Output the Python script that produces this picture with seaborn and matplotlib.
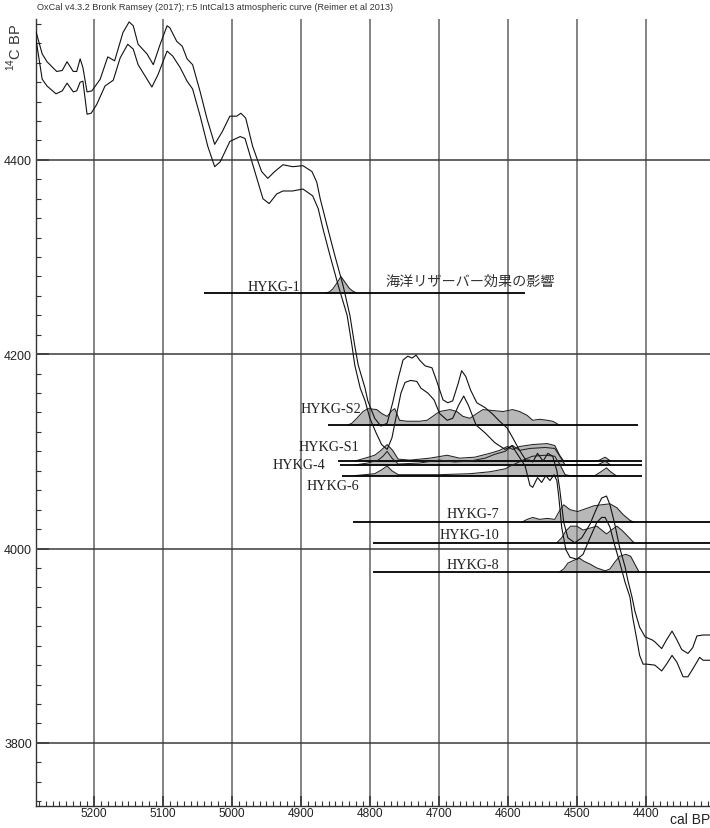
import matplotlib
matplotlib.use("Agg")
import matplotlib.pyplot as plt
from matplotlib.ticker import MultipleLocator, FixedLocator
import numpy as np
import pandas as pd
import seaborn as sns

# IntCal13 atmospheric curve, +1 sigma edge (cal BP, 14C BP)
upper_cal = [5284, 5275, 5268, 5254, 5246, 5239, 5230, 5225, 5220, 5216, 5210, 5203, 5191, 5180,
             5170, 5158, 5149, 5143, 5136, 5123, 5114, 5104, 5094, 5090, 5080, 5072, 5065, 5057,
             5046, 5036, 5025, 5014, 5003, 4993, 4987, 4980, 4970, 4957, 4948, 4938, 4926, 4912,
             4897, 4884, 4877, 4872, 4862, 4851, 4839, 4829, 4822, 4817, 4807, 4803, 4793, 4784,
             4775, 4767, 4759, 4752, 4745, 4739, 4733, 4728, 4720, 4710, 4703, 4694, 4687, 4680,
             4672, 4667, 4661, 4654, 4645, 4633, 4623, 4612, 4601, 4593, 4583, 4574, 4568, 4564,
             4557, 4549, 4542, 4535, 4529, 4525, 4519, 4513, 4503, 4493, 4481, 4471, 4464, 4457,
             4452, 4445, 4438, 4430, 4426, 4420, 4416, 4409, 4401, 4391, 4387, 4377, 4370, 4362,
             4355, 4348, 4339, 4332, 4326, 4317, 4307]
upper_c14 = [4532, 4509, 4501, 4491, 4492, 4501, 4491, 4491, 4504, 4495, 4470, 4471, 4483, 4506,
             4502, 4531, 4542, 4538, 4519, 4509, 4498, 4519, 4538, 4536, 4522, 4517, 4504, 4498,
             4470, 4442, 4416, 4429, 4445, 4445, 4448, 4443, 4414, 4388, 4381, 4388, 4395, 4393,
             4394, 4388, 4377, 4360, 4332, 4302, 4271, 4240, 4209, 4189, 4165, 4152, 4134, 4126,
             4129, 4150, 4175, 4194, 4198, 4196, 4199, 4194, 4188, 4186, 4172, 4153, 4150, 4152,
             4170, 4183, 4177, 4163, 4150, 4145, 4139, 4131, 4124, 4114, 4101, 4091, 4091, 4089,
             4098, 4090, 4098, 4095, 4080, 4062, 4027, 4011, 4006, 4011, 4025, 4042, 4052, 4054,
             4045, 4025, 4001, 3981, 3967, 3950, 3936, 3919, 3909, 3906, 3904, 3897, 3906, 3915,
             3906, 3896, 3892, 3898, 3910, 3911, 3911]

# IntCal13 atmospheric curve, -1 sigma edge (cal BP, 14C BP)
lower_cal = [5284, 5275, 5268, 5255, 5246, 5239, 5230, 5225, 5220, 5216, 5210, 5204, 5196, 5184,
             5172, 5162, 5151, 5143, 5136, 5123, 5116, 5107, 5094, 5086, 5075, 5065, 5057, 5046,
             5035, 5025, 5017, 5003, 4988, 4981, 4971, 4955, 4946, 4935, 4926, 4912, 4897, 4883,
             4875, 4868, 4858, 4846, 4833, 4826, 4822, 4814, 4807, 4800, 4791, 4783, 4775, 4768,
             4761, 4755, 4749, 4741, 4732, 4726, 4716, 4707, 4699, 4688, 4680, 4671, 4664, 4657,
             4646, 4633, 4619, 4604, 4594, 4587, 4575, 4568, 4564, 4557, 4551, 4545, 4539, 4533,
             4529, 4526, 4522, 4516, 4510, 4500, 4491, 4481, 4471, 4464, 4459, 4452, 4445, 4438,
             4430, 4423, 4419, 4413, 4409, 4404, 4399, 4387, 4377, 4370, 4362, 4355, 4346, 4339,
             4332, 4322, 4317, 4307]
lower_c14 = [4524, 4483, 4476, 4468, 4471, 4479, 4470, 4471, 4480, 4481, 4447, 4448, 4457, 4476,
             4482, 4505, 4519, 4514, 4498, 4483, 4475, 4488, 4512, 4507, 4495, 4481, 4473, 4445,
             4414, 4393, 4398, 4419, 4424, 4422, 4398, 4360, 4355, 4365, 4368, 4368, 4370, 4363,
             4350, 4329, 4302, 4271, 4240, 4209, 4189, 4165, 4152, 4134, 4119, 4107, 4102, 4114,
             4139, 4160, 4171, 4173, 4172, 4165, 4160, 4153, 4139, 4132, 4134, 4148, 4157, 4147,
             4127, 4119, 4109, 4102, 4106, 4098, 4085, 4065, 4063, 4073, 4068, 4075, 4070, 4076,
             4070, 4052, 4022, 3999, 3991, 3989, 3994, 4011, 4027, 4032, 4032, 4022, 4003, 3986,
             3965, 3950, 3929, 3906, 3890, 3881, 3881, 3880, 3874, 3881, 3890, 3883, 3868, 3868,
             3876, 3888, 3885, 3885]

# Radiocarbon dates: sample, measured 14C age, plotted calendar range
sample_ids = ["HYKG-1", "HYKG-S2", "HYKG-S1", "HYKG-4", "HYKG-6", "HYKG-7", "HYKG-10", "HYKG-8"]
sample_c14 = [4263, 4127, 4090, 4086, 4075, 4027, 4006, 3976]
range_old = [5041, 4861, 4846, 4843, 4841, 4825, 4796, 4796]
range_young = [4575, 4412, 4406, 4406, 4406, 4300, 4300, 4300]

# Calibrated probability profiles (cal BP, height above the date's baseline)
hykg1_cal = [4865, 4859, 4854, 4848, 4842, 4836, 4830, 4825, 4819]
hykg1_h = [0, 1, 4, 10, 17, 11, 5, 2, 0]
hykgs2_cal = [4832, 4826, 4819, 4810, 4803, 4790, 4783, 4775, 4768, 4764, 4757, 4746, 4728, 4717,
              4709, 4699, 4684, 4674, 4665, 4655, 4645, 4636, 4622, 4607, 4593, 4583, 4572, 4564,
              4554, 4543, 4535, 4525]
hykgs2_h = [0, 2, 7, 14, 17, 16, 12, 9, 15, 17, 5, 4, 4, 5, 9, 14, 16, 14, 9, 7, 12, 16, 15, 14,
            16, 14, 10, 5, 6, 5, 4, 0]
hykgs1_cal = [4822, 4807, 4793, 4784, 4775, 4767, 4759, 4742, 4713, 4688, 4670, 4648, 4626, 4612,
              4601, 4593, 4583, 4564, 4543, 4532, 4525, 4519, 4470, 4459, 4451]
hykgs1_h = [0, 3, 6, 11, 17, 11, 2, 1, 3, 6, 3, 4, 8, 11, 15, 12, 15, 17, 18, 16, 6, 0, 0, 4, 0]
hykg4_cal = [4822, 4803, 4788, 4781, 4775, 4768, 4759, 4728, 4699, 4677, 4655, 4633, 4619, 4604,
             4593, 4583, 4568, 4546, 4532, 4523, 4517, 4470, 4459, 4451]
hykg4_h = [0, 2, 5, 9, 14, 7, 1, 2, 5, 3, 4, 7, 11, 14, 20, 15, 17, 18, 17, 7, 0, 0, 4, 0]
hykg6_cal = [4822, 4793, 4783, 4775, 4768, 4759, 4699, 4655, 4626, 4604, 4590, 4575, 4564, 4546,
             4532, 4525, 4517, 4510, 4474, 4465, 4457, 4451, 4443]
hykg6_h = [0, 2, 6, 10, 5, 1, 1, 2, 4, 7, 12, 17, 20, 21, 20, 12, 1, 0, 0, 4, 8, 4, 0]
hykg7_cal = [4580, 4572, 4564, 4554, 4543, 4532, 4525, 4519, 4510, 4499, 4487, 4475, 4464, 4452,
             4442, 4433, 4423, 4417]
hykg7_h = [0, 3, 5, 3, 4, 3, 12, 18, 13, 11, 14, 17, 18, 19, 15, 8, 2, 0]
hykg10_cal = [4529, 4522, 4516, 4509, 4500, 4491, 4481, 4471, 4464, 4457, 4450, 4442, 4435, 4428,
              4420, 4417]
hykg10_h = [0, 5, 12, 17, 17, 13, 15, 17, 13, 9, 13, 17, 13, 8, 2, 0]
hykg8_cal = [4525, 4519, 4513, 4504, 4496, 4490, 4481, 4471, 4459, 4452, 4445, 4438, 4429, 4422,
             4416, 4410]
hykg8_h = [0, 3, 9, 12, 14, 11, 8, 4, 1, 3, 10, 16, 18, 16, 8, 0]

profiles_cal = [hykg1_cal, hykgs2_cal, hykgs1_cal, hykg4_cal, hykg6_cal, hykg7_cal, hykg10_cal, hykg8_cal]
profiles_h = [hykg1_h, hykgs2_h, hykgs1_h, hykg4_h, hykg6_h, hykg7_h, hykg10_h, hykg8_h]

title_text = "OxCal v4.3.2 Bronk Ramsey (2017); r:5 IntCal13 atmospheric curve (Reimer et al 2013)"
note_text = "海洋リザーバー効果の影響"

# Sample label anchors: (right edge in cal BP, vertical offset from the baseline)
label_anchor = {
    "HYKG-1": (4901, 7), "HYKG-S2": (4812, 17), "HYKG-S1": (4815, 15), "HYKG-4": (4864, 0),
    "HYKG-6": (4815, -10), "HYKG-7": (4612, 9), "HYKG-10": (4612, 8), "HYKG-8": (4612, 8),
}

sns.set_theme(style="white")
plt.rcParams["font.family"] = ["Liberation Sans", "DejaVu Sans"]
plt.rcParams["mathtext.fontset"] = "custom"
plt.rcParams["mathtext.rm"] = "Liberation Sans"

W, H = 710, 829
fig = plt.figure(figsize=(W / 100, H / 100), dpi=100)
ax = fig.add_axes([36 / W, 1 - 807 / H, 1 - 36 / W, (807 - 20) / H])

# calibration curve envelope
env = pd.DataFrame({
    "cal": upper_cal + lower_cal,
    "c14": upper_c14 + lower_c14,
    "edge": ["upper"] * len(upper_cal) + ["lower"] * len(lower_cal),
})
sns.lineplot(data=env, x="cal", y="c14", units="edge", estimator=None, sort=False,
             color="#111111", linewidth=0.8, ax=ax, zorder=4, legend=False)

fill_col = "#b8b8b8"
for sid, c14, old, young, pc, ph in zip(sample_ids, sample_c14, range_old, range_young,
                                        profiles_cal, profiles_h):
    pc = np.asarray(pc, float)
    top = c14 + np.asarray(ph, float)
    ax.fill_between(pc, c14, top, color=fill_col, linewidth=0, zorder=2)
    ax.plot(pc, top, color="#222222", linewidth=0.75, zorder=3)
    ax.hlines(c14, young, old, color="black", linewidth=1.3, zorder=3)
    lx, dy = label_anchor[sid]
    ax.text(lx, c14 + dy, sid, ha="right", va="center", fontsize=10.2,
            family=["Liberation Serif", "DejaVu Serif"], color="#222222", zorder=5)

ax.text(4778, 4275, note_text, ha="left", va="center", fontsize=10.2,
        family=["Noto Sans CJK JP", "DejaVu Sans"], color="#333333", zorder=5)

ax.set_xlim(5284, 4307)
ax.set_ylim(3735, 4545)

ax.xaxis.set_major_locator(FixedLocator(list(range(5200, 4399, -100))))
ax.xaxis.set_minor_locator(MultipleLocator(10))
ax.yaxis.set_major_locator(FixedLocator([3800, 4000, 4200, 4400]))
ax.yaxis.set_minor_locator(MultipleLocator(20))

ax.grid(True, which="major", axis="x", color="#7a7a7a", linewidth=1.3)
ax.grid(True, which="major", axis="y", color="#3a3a3a", linewidth=1.1)
ax.set_axisbelow(False)

ax.tick_params(axis="x", which="both", bottom=True, top=False)
ax.tick_params(axis="y", which="both", left=True, right=False)
ax.tick_params(axis="x", which="major", direction="in", length=7, width=1.4, color="#444444",
               labelsize=8.6, pad=1, labelcolor="#222222")
ax.tick_params(axis="x", which="minor", direction="in", length=3.5, width=0.8, color="#333333")
ax.tick_params(axis="y", which="major", direction="in", length=9, width=1.4, color="#444444",
               labelsize=9, pad=3, labelcolor="#222222")
ax.tick_params(axis="y", which="minor", direction="in", length=3.6, width=0.8, color="#333333")
ax.set_xlabel("")
ax.set_ylabel("")

for side in ("top", "right"):
    ax.spines[side].set_visible(False)
for side in ("left", "bottom"):
    ax.spines[side].set_color("#333333")
    ax.spines[side].set_linewidth(1.0)

fig.text(37 / W, 1 - 8 / H, title_text, ha="left", va="center", fontsize=6.6, color="#333333")
fig.text(14 / W, 1 - 47 / H, r"$^{14}$C BP", rotation=90, ha="center", va="center",
         fontsize=10.5, color="#333333")
fig.text(690 / W, 1 - 820 / H, "cal BP", ha="center", va="center", fontsize=10, color="#222222")

fig.savefig("out.png", dpi=100)
